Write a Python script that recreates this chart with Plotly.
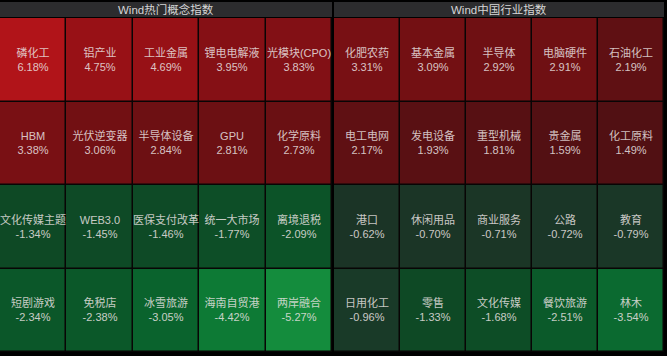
import plotly.graph_objects as go

# ---- data ----
left_title = "Wind热门概念指数"
right_title = "Wind中国行业指数"

left_names = [
    ["磷化工", "铝产业", "工业金属", "锂电电解液", "光模块(CPO)"],
    ["HBM", "光伏逆变器", "半导体设备", "GPU", "化学原料"],
    ["文化传媒主题", "WEB3.0", "医保支付改革", "统一大市场", "离境退税"],
    ["短剧游戏", "免税店", "冰雪旅游", "海南自贸港", "两岸融合"],
]
left_vals = [
    [6.18, 4.75, 4.69, 3.95, 3.83],
    [3.38, 3.06, 2.84, 2.81, 2.73],
    [-1.34, -1.45, -1.46, -1.77, -2.09],
    [-2.34, -2.38, -3.05, -4.42, -5.27],
]
right_names = [
    ["化肥农药", "基本金属", "半导体", "电脑硬件", "石油化工"],
    ["电工电网", "发电设备", "重型机械", "贵金属", "化工原料"],
    ["港口", "休闲用品", "商业服务", "公路", "教育"],
    ["日用化工", "零售", "文化传媒", "餐饮旅游", "林木"],
]
right_vals = [
    [3.31, 3.09, 2.92, 2.91, 2.19],
    [2.17, 1.93, 1.81, 1.59, 1.49],
    [-0.62, -0.70, -0.71, -0.72, -0.79],
    [-0.96, -1.33, -1.68, -2.51, -3.54],
]

# ---- colour scale (value -> colour) ----
stops = [
    (-5.27, "#148c3d"), (-4.42, "#0d7a35"), (-3.54, "#0b6a30"), (-3.05, "#0a632d"),
    (-2.40, "#0b5829"), (-1.80, "#0d4e27"), (-1.33, "#0e4925"), (-1.00, "#193b28"),
    (-0.62, "#1b3426"), (0.0, "#2a1a1a"), (1.49, "#511013"), (1.93, "#591013"),
    (2.19, "#5f1013"), (2.81, "#6c1013"), (3.09, "#731013"), (3.38, "#791014"),
    (3.95, "#851015"), (4.69, "#971116"), (6.18, "#b11419"),
]
zmin, zmax = stops[0][0], stops[-1][0]
colorscale = [[(v - zmin) / (zmax - zmin), c] for v, c in stops]

W, H = 667, 356
font_family = "Helvetica, Arial, 'Liberation Sans', 'Noto Sans CJK SC', sans-serif"

fig = go.Figure()
cols = list(range(5))
rows = list(range(4))
for i, (names, vals) in enumerate([(left_names, left_vals), (right_names, right_vals)]):
    suffix = "" if i == 0 else "2"
    fig.add_trace(go.Heatmap(
        z=vals, x=cols, y=rows, text=names,
        texttemplate="%{text}<br>%{z:.2f}%",
        textfont=dict(family=font_family, size=11, color="rgba(235,228,228,0.85)"),
        coloraxis="coloraxis", xgap=1.5, ygap=1.5, hoverinfo="skip",
        xaxis="x" + suffix, yaxis="y" + suffix,
    ))

ydom = [(H - 352) / H, (H - 18) / H]
ax = dict(visible=False, showgrid=False, zeroline=False, fixedrange=True)
fig.update_layout(
    width=W, height=H,
    margin=dict(l=0, r=0, t=0, b=0),
    paper_bgcolor="#000000", plot_bgcolor="#080505",
    coloraxis=dict(colorscale=colorscale, cmin=zmin, cmax=zmax, showscale=False),
    xaxis=dict(domain=[0, 332 / W], range=[-0.5, 4.5], **ax),
    yaxis=dict(domain=ydom, range=[3.5, -0.5], **ax),
    xaxis2=dict(domain=[334 / W, 664 / W], range=[-0.5, 4.5], anchor="y2", **ax),
    yaxis2=dict(domain=ydom, range=[3.5, -0.5], anchor="x2", **ax),
    showlegend=False,
)

# title bars
for x0, x1, title in [(0, 332, left_title), (334, 664, right_title)]:
    fig.add_shape(type="rect", xref="paper", yref="paper",
                  x0=x0 / W, x1=x1 / W, y0=(H - 17) / H, y1=(H - 2) / H,
                  fillcolor="#2c2c2e", line=dict(width=0), layer="below")
    fig.add_annotation(xref="paper", yref="paper", x=(x0 + x1) / 2 / W, y=(H - 9.5) / H,
                       text=title, showarrow=False, xanchor="center", yanchor="middle",
                       font=dict(family=font_family, size=11.5, color="#d6d6d6"))

fig.write_html(
    "out.html",
    config={"displayModeBar": False},
    post_script="document.body.style.margin='0';document.body.style.padding='0';"
                "document.body.style.background='#000';",
)
